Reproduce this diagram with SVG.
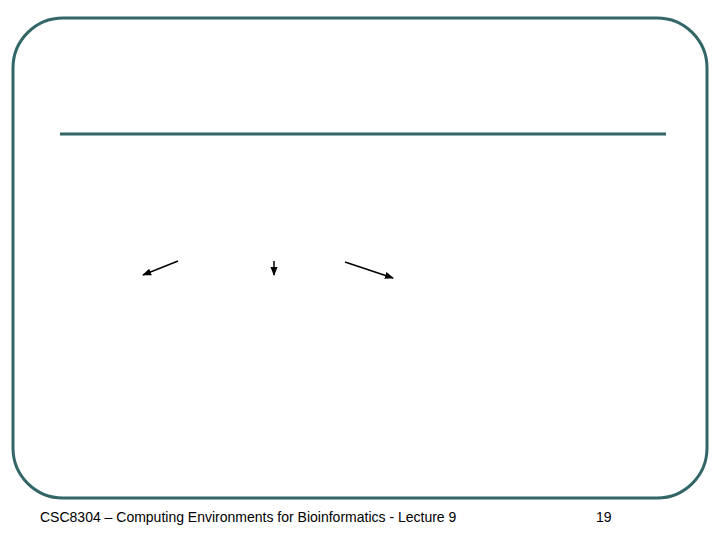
<svg xmlns="http://www.w3.org/2000/svg" width="720" height="540" viewBox="0 0 720 540">
  <style>
    .frame { fill: none; stroke: #336666; stroke-width: 3; }
    .rule { stroke: #336666; stroke-width: 3; }
    .arrow { stroke: #000; stroke-width: 1.5; fill: none; marker-end: url(#ah); }
    .foot { font-family: "Liberation Sans", Arial, sans-serif; font-size: 14px; fill: #000; }
  </style>
  <defs>
    <marker id="ah" viewBox="0 0 10 10" refX="9" refY="5" markerWidth="6" markerHeight="6" orient="auto" markerUnits="strokeWidth">
      <path d="M0,1 L10,5 L0,9 Z" fill="#000"/>
    </marker>
  </defs>
  <rect width="720" height="540" fill="#fff"/>
  <g id="frame">
    <rect class="frame" x="13" y="18" width="694" height="480" rx="50" ry="50"/>
    <line class="rule" x1="60" y1="134" x2="666" y2="134"/>
  </g>
  <g id="connectors">
    <line class="arrow" x1="178" y1="261" x2="143" y2="275"/>
    <line class="arrow" x1="274" y1="261" x2="274" y2="275"/>
    <line class="arrow" x1="345" y1="262" x2="393" y2="278"/>
  </g>
  <g id="footer">
    <text class="foot" x="40" y="522">CSC8304 – Computing Environments for Bioinformatics - Lecture 9</text>
    <text class="foot" x="596" y="522">19</text>
  </g>
</svg>
